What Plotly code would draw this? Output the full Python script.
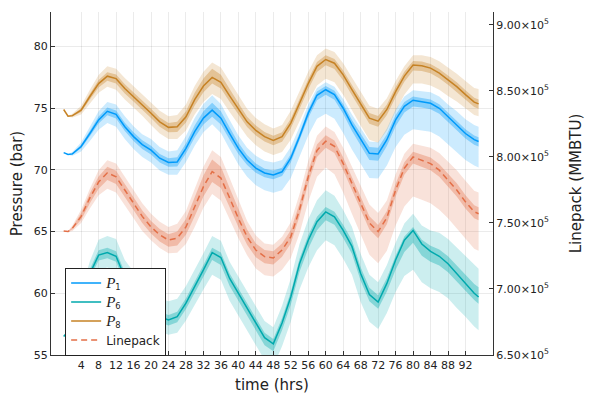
import plotly.graph_objects as go

# time (hrs)
t = [0, 1, 2, 4, 6, 8, 10, 12, 14, 16, 18, 20, 22, 24, 26, 28, 30, 32, 34, 36, 38, 40, 42, 44, 46, 48,
     50, 52, 54, 56, 58, 60, 62, 64, 66, 68, 70, 72, 74, 76, 78, 80, 82, 84, 86, 88, 90, 92, 94, 95]

# ---- P1 (bar) ----
p1_mean = [71.4, 71.25, 71.3, 71.9, 72.95, 74.05, 74.75, 74.5, 73.5, 72.7, 72.05, 71.6, 70.95, 70.6, 70.65,
           71.75, 73.1, 74.2, 74.85, 74.2, 72.95, 71.75, 70.8, 70.15, 69.75, 69.6, 69.85, 70.95, 72.7, 74.6,
           76.05, 76.5, 76.1, 75.0, 73.65, 72.45, 71.35, 71.3, 72.45, 74.05, 75.15, 75.65, 75.55, 75.4, 75.0,
           74.3, 73.65, 72.95, 72.45, 72.3]
p1_out_up = [0, .05, .15, .35, .55, .7, .75, .8, .85, .85, .85, .9, .9, .9, .95, 1.0, 1.1, 1.15, 1.2, 1.15,
             1.1, 1.05, 1.0, 1.0, 1.0, 1.0, .95, .9, .8, .7, .6, .6, .65, .75, .85, .9, .95, .95, .9, .85,
             .8, .8, .85, .9, .95, 1.0, 1.1, 1.15, 1.2, 1.2]
p1_out_dn = [0, .05, .15, .4, .6, .8, .95, 1.0, 1.0, 1.0, 1.0, 1.0, 1.0, 1.0, 1.05, 1.1, 1.15, 1.15, 1.15, 1.2,
             1.25, 1.3, 1.35, 1.4, 1.4, 1.45, 1.5, 1.6, 1.7, 1.8, 1.9, 1.95, 1.95, 2.0, 2.0, 2.0, 2.0, 2.0, 2.1, 2.2,
             2.3, 2.35, 2.35, 2.3, 2.3, 2.25, 2.2, 2.15, 2.1, 2.1]
p1_in_up = [0, .02, .06, .15, .22, .28, .3, .32, .33, .35, .35, .35, .35, .35, .38, .42, .5, .55, .6, .55,
            .5, .45, .4, .38, .35, .35, .33, .32, .3, .3, .3, .3, .32, .35, .4, .45, .5, .5, .45, .4,
            .35, .3, .3, .3, .32, .33, .35, .35, .35, .35]
p1_in_dn = [0, .02, .06, .15, .22, .28, .32, .33, .35, .35, .35, .35, .35, .35, .38, .42, .48, .52, .55, .52,
            .48, .45, .4, .38, .35, .35, .35, .35, .38, .4, .4, .4, .42, .45, .5, .52, .55, .55, .52, .5,
            .5, .5, .5, .48, .45, .42, .4, .4, .4, .4]

# ---- P6 (bar) ----
p6_mean = [56.5, 56.9, 57.6, 59.6, 61.6, 63.1, 63.3, 63.0, 61.3, 60.3, 59.4, 58.6, 58.1, 57.85, 58.1, 59.2,
           60.5, 61.9, 63.3, 62.9, 61.2, 60.0, 58.8, 57.6, 56.4, 55.9, 57.6, 59.7, 62.4, 64.3, 65.8, 66.6,
           66.2, 65.1, 63.8, 61.6, 59.9, 59.3, 60.8, 62.7, 64.3, 65.1, 64.0, 63.4, 63.0, 62.4, 61.6, 60.8,
           60.0, 59.7]
p6_out_up = [0, .1, .3, .7, 1.0, 1.25, 1.35, 1.4, 1.4, 1.45, 1.45, 1.5, 1.5, 1.5, 1.45, 1.4, 1.4, 1.35, 1.35,
             1.35, 1.35, 1.35, 1.35, 1.35, 1.35, 1.35, 1.4, 1.5, 1.6, 1.7, 1.75, 1.75, 1.7, 1.65, 1.6, 1.6,
             1.6, 1.6, 1.5, 1.4, 1.35, 1.35, 1.5, 1.7, 1.9, 2.0, 2.1, 2.2, 2.3, 2.3]
p6_out_dn = [0, .1, .3, .7, 1.0, 1.2, 1.2, 1.2, 1.2, 1.2, 1.2, 1.2, 1.2, 1.2, 1.3, 1.4, 1.5, 1.6, 1.8, 1.8,
             1.8, 1.8, 1.8, 1.8, 1.8, 1.8, 1.9, 2.0, 2.1, 2.2, 2.3, 2.3, 2.3, 2.3, 2.3, 2.3, 2.2, 2.2, 2.4,
             2.6, 2.9, 3.2, 3.1, 3.0, 2.9, 2.8, 2.8, 2.7, 2.7, 2.7]
p6_in_up = [0, .03, .1, .25, .35, .4, .4, .4, .4, .4, .4, .4, .4, .4, .4, .4, .4, .4, .4, .4,
            .4, .4, .4, .4, .4, .4, .4, .4, .4, .4, .4, .4, .42, .45, .5, .52, .55, .55, .45, .35,
            .3, .28, .35, .45, .55, .6, .65, .7, .75, .8]
p6_in_dn = [0, .03, .1, .25, .38, .45, .45, .45, .45, .45, .45, .45, .45, .45, .45, .48, .5, .55, .6, .6,
            .6, .6, .6, .6, .6, .6, .6, .62, .65, .68, .68, .68, .65, .62, .6, .58, .55, .55, .65, .8,
            .95, 1.0, .95, .85, .75, .7, .65, .6, .55, .55]

# ---- P8 (bar) ----
p8_mean = [74.9, 74.35, 74.4, 74.85, 75.95, 77.0, 77.6, 77.4, 76.6, 75.95, 75.3, 74.6, 73.9, 73.45, 73.5,
           74.3, 75.7, 76.8, 77.5, 77.1, 76.0, 74.9, 73.9, 73.2, 72.7, 72.4, 72.7, 73.8, 75.4, 77.0, 78.4,
           78.95, 78.65, 77.7, 76.5, 75.3, 74.2, 73.95, 74.9, 76.35, 77.6, 78.5, 78.45, 78.25, 77.85, 77.3,
           76.75, 76.1, 75.5, 75.35]
p8_out_up = [0, .05, .15, .35, .55, .7, .8, .8, .85, .85, .85, .9, .9, .9, .95, 1.0, 1.1, 1.15, 1.2, 1.2,
             1.15, 1.1, 1.05, 1.0, 1.0, .95, .95, 1.0, 1.0, .95, .9, .9, .9, .95, 1.0, 1.0, 1.0, 1.0, .9, .85,
             .8, .8, .85, .9, .95, 1.0, 1.05, 1.1, 1.15, 1.2]
p8_out_dn = [0, .05, .15, .35, .55, .75, .85, .9, .9, .9, .9, .95, .95, .95, 1.0, 1.1, 1.2, 1.3, 1.35, 1.35,
             1.3, 1.25, 1.2, 1.2, 1.2, 1.2, 1.25, 1.35, 1.45, 1.5, 1.55, 1.55, 1.55, 1.6, 1.65, 1.7, 1.75,
             1.75, 1.7, 1.6, 1.5, 1.5, 1.45, 1.4, 1.35, 1.3, 1.2, 1.1, 1.05, 1.0]
p8_in_up = [0, .02, .06, .15, .22, .28, .32, .33, .35, .35, .35, .35, .35, .35, .4, .45, .55, .62, .7, .62,
            .55, .48, .42, .4, .38, .36, .35, .35, .35, .35, .35, .35, .35, .35, .38, .4, .42, .42, .4, .38,
            .35, .33, .33, .33, .33, .35, .35, .35, .35, .35]
p8_in_dn = [0, .02, .06, .15, .25, .32, .38, .4, .4, .4, .4, .4, .4, .4, .42, .45, .48, .5, .5, .5,
            .48, .45, .42, .4, .4, .4, .42, .44, .45, .46, .46, .46, .46, .45, .45, .45, .45, .45, .45, .45,
            .45, .45, .43, .42, .42, .4, .4, .4, .4, .4]

# ---- Linepack (MMBTU) ----
lp_mean = [744000, 743500, 746000, 755000, 769000, 781000, 788000, 785000, 775000, 765000,
           755000, 747000, 741000, 737000, 738500, 747000, 762000, 777500, 789000, 784000,
           769000, 753500, 739500, 729500, 724500, 723500, 729500, 739500, 760000, 785000,
           805000, 812000, 808000, 795000, 780000, 765000, 750000, 743500, 754000, 775000,
           791500, 800000, 797500, 795000, 790000, 782500, 775000, 766000, 758500, 757000]
lp_out_up = [0, 500, 2000, 5000, 7000, 9000, 9500, 10000, 10000, 10000,
             10000, 10000, 10000, 10000, 11000, 12000, 14000, 15000, 16000, 16000,
             15000, 14000, 12000, 11000, 10000, 10000, 10000, 11000, 12000, 12000,
             11000, 11000, 11000, 12000, 13000, 14000, 14000, 14000, 13000, 12000,
             11000, 10000, 11000, 12000, 13000, 14000, 15000, 16000, 16000, 16000]
lp_out_dn = [0, 500, 2000, 5000, 8000, 10000, 12000, 12000, 12000, 11000,
             11000, 10000, 10000, 10000, 11000, 13000, 15000, 16000, 17000, 17000,
             16000, 15000, 14000, 14000, 14000, 14000, 15000, 16000, 18000, 19000,
             20000, 20000, 21000, 22000, 23000, 24000, 24000, 24000, 25000, 27000,
             29000, 30000, 30000, 30000, 30000, 29000, 29000, 28000, 28000, 28000]
lp_in_up = [0, 200, 1000, 2500, 3500, 4200, 4500, 4500, 4500, 4500,
            4500, 4500, 4500, 4500, 5000, 6000, 7500, 8500, 9000, 8500,
            7500, 6500, 5500, 5000, 5000, 5000, 5000, 5000, 5000, 4500,
            4500, 4500, 4500, 4500, 4500, 4500, 5000, 5000, 5000, 4500,
            4500, 4000, 4000, 4500, 4500, 4500, 5000, 5000, 5000, 5000]
lp_in_dn = [0, 200, 1000, 2500, 4000, 5000, 5500, 5500, 5500, 5000,
            5000, 5000, 5000, 5000, 5500, 6000, 7000, 7500, 8000, 7500,
            7000, 6500, 6000, 5500, 5000, 5000, 5000, 5000, 5000, 5000,
            5000, 5000, 5000, 5000, 5000, 5000, 5000, 5000, 5000, 5000,
            5000, 5000, 5000, 5000, 5000, 5000, 5000, 5000, 5000, 5000]

x_ticks = list(range(4, 96, 4))
y_ticks = [55, 60, 65, 70, 75, 80]
y2_ticks = [650000, 700000, 750000, 800000, 850000, 900000]
y2_labels = ["6.50×10<sup>5</sup>", "7.00×10<sup>5</sup>", "7.50×10<sup>5</sup>",
             "8.00×10<sup>5</sup>", "8.50×10<sup>5</sup>", "9.00×10<sup>5</sup>"]

P = "<span style='font-family:Liberation Serif;font-size:15px'><i>P</i></span>"
series = [
    (P + "<sub>1</sub>", p1_mean, p1_out_up, p1_out_dn, p1_in_up, p1_in_dn, (0, 154, 250), "y", "solid"),
    (P + "<sub>6</sub>", p6_mean, p6_out_up, p6_out_dn, p6_in_up, p6_in_dn, (0, 169, 173), "y", "solid"),
    (P + "<sub>8</sub>", p8_mean, p8_out_up, p8_out_dn, p8_in_up, p8_in_dn, (198, 130, 37), "y", "solid"),
    ("Linepack", lp_mean, lp_out_up, lp_out_dn, lp_in_up, lp_in_dn, (227, 111, 71), "y2", "6px,4px"),
]

fig = go.Figure()
for name, m, ou, od, iu, idn, c, ax, dash in series:
    rgb = "%d,%d,%d" % c
    for up, dn, alpha in ((ou, od, 0.2), (iu, idn, 0.35)):
        upper = [a + b for a, b in zip(m, up)]
        lower = [a - b for a, b in zip(m, dn)]
        fig.add_trace(go.Scatter(
            x=t + t[::-1], y=upper + lower[::-1], fill="toself", mode="lines",
            line=dict(width=0), fillcolor="rgba(%s,%.2f)" % (rgb, alpha),
            showlegend=False, hoverinfo="skip", yaxis=ax))
    fig.add_trace(go.Scatter(
        x=t, y=m, mode="lines", name=name, yaxis=ax,
        line=dict(color="rgb(%s)" % rgb, width=1.5, dash=dash)))

axis_common = dict(ticks="inside", ticklen=4, tickcolor="#333", showline=True, linecolor="#333",
                   linewidth=1, zeroline=False, automargin=False,
                   tickfont=dict(size=11, color="#222"))

# the page body adds an 8px offset, so the figure is 592x392 to land on the 600x400 window
fig.update_layout(
    width=592, height=392,
    margin=dict(l=43, r=107, t=4, b=45, autoexpand=False),
    plot_bgcolor="white", paper_bgcolor="white",
    font=dict(family="DejaVu Sans", size=11, color="#222"),
    xaxis=dict(range=[-2.9, 98.3], tickvals=x_ticks, showgrid=True, gridcolor="rgba(0,0,0,0.08)",
               gridwidth=1, title=dict(text="time (hrs)", font=dict(size=15), standoff=8),
               **axis_common),
    yaxis=dict(range=[55, 82.8], tickvals=y_ticks, showgrid=True, gridcolor="rgba(0,0,0,0.08)",
               gridwidth=1, title=dict(text="Pressure (bar)", font=dict(size=15), standoff=9),
               **axis_common),
    yaxis2=dict(range=[650000, 909800], overlaying="y", side="right", tickvals=y2_ticks,
                ticktext=y2_labels, showgrid=False,
                title=dict(text="Linepack (MMBTU)", font=dict(size=15), standoff=22),
                **axis_common),
    legend=dict(x=0.032, y=0.255, xanchor="left", yanchor="top", bgcolor="white",
                bordercolor="#222", borderwidth=1, font=dict(size=12), itemwidth=30,
                tracegroupgap=0),
    showlegend=True,
)

fig.write_html("out.html")
